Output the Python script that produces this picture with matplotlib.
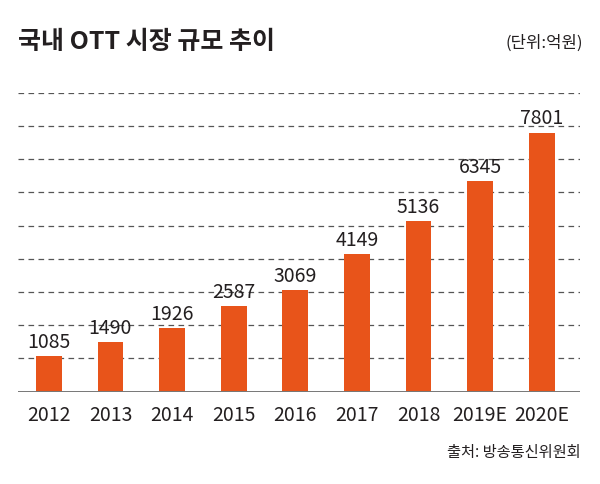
import matplotlib
matplotlib.use("Agg")
import matplotlib.pyplot as plt
from matplotlib.transforms import blended_transform_factory

plt.rcParams['font.family'] = ['Noto Sans CJK KR', 'DejaVu Sans']

years = ['2012', '2013', '2014', '2015', '2016', '2017', '2018', '2019E', '2020E']
values = [1085, 1490, 1926, 2587, 3069, 4149, 5136, 6345, 7801]
grid_values = [1000, 2000, 3000, 4000, 5000, 6000, 7000, 8000, 9000]

title = '국내 OTT 시장 규모 추이'
unit = '(단위:억원)'
source = '출처: 방송통신위원회'

bar_color = '#E8541A'
text_color = '#231F20'

fig = plt.figure(figsize=(6.0, 4.84), dpi=100)
W, H = 600, 484
ax = fig.add_axes([18.3 / W, 1 - 391.7 / H, (580 - 18.3) / W, (391.7 - 92.7) / H])

x = list(range(len(years)))
ax.bar(x, values, width=0.417, color=bar_color, zorder=3)

for g in grid_values:
    ax.axhline(g, color='#555555', lw=0.9, dashes=(4.5, 3.5), zorder=1)
ax.axhline(0, color='#777777', lw=1.4, zorder=4)

ax.set_xlim(-0.495, 8.62)
ax.set_ylim(0, 9000)
ax.axis('off')

for xi, v in zip(x, values):
    ax.annotate(str(v), xy=(xi, v), xytext=(0, 5.8), textcoords='offset points',
                ha='center', va='baseline', fontsize=14, color=text_color)

trans = blended_transform_factory(ax.transData, ax.transAxes)
for xi, lab in zip(x, years):
    ax.annotate(lab, xy=(xi, 0), xycoords=trans, xytext=(0, -29 * 0.72),
                textcoords='offset points', ha='center', va='baseline',
                fontsize=14, color=text_color)

fig.text(18.3 / W, 1 - 42 / H, title, ha='left', va='center', fontsize=18,
         fontweight='heavy', color=text_color)
fig.text(583 / W, 1 - 43.3 / H, unit, ha='right', va='center', fontsize=12,
         color=text_color)
fig.text(581 / W, 1 - 452.5 / H, source, ha='right', va='center', fontsize=11,
         color=text_color)

fig.savefig('out.png', dpi=100)
